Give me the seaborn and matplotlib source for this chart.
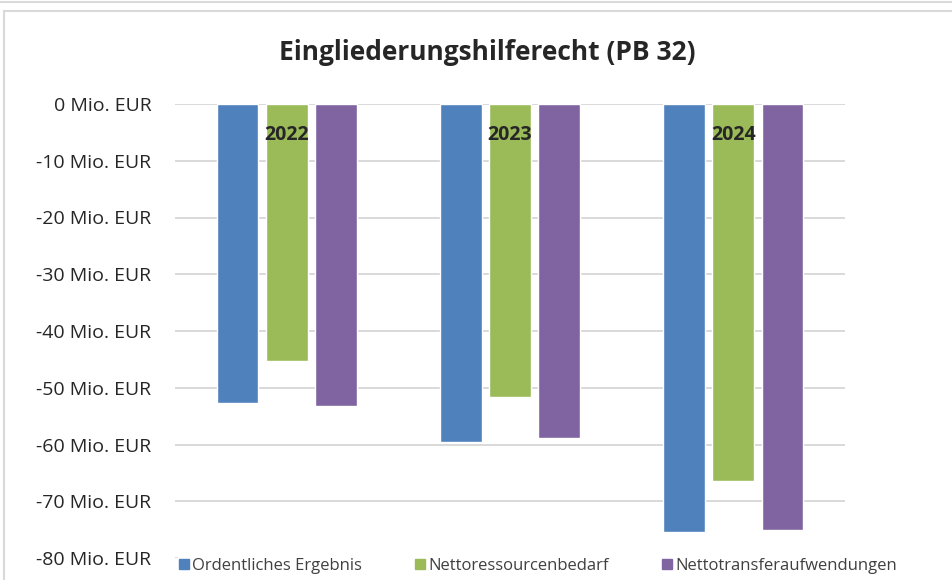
import seaborn as sns
import matplotlib.pyplot as plt
import matplotlib.patches as mpatches
import pandas as pd

# values in Mio. EUR
years = ['2022', '2023', '2024']
series = ['Ordentliches Ergebnis', 'Nettoressourcenbedarf', 'Nettotransferaufwendungen']
ordentliches = [-52.6, -59.5, -75.5]
nettoressourcen = [-45.2, -51.7, -66.4]
nettotransfer = [-53.2, -58.8, -75.1]
colors = ['#4F81BD', '#9BBB59', '#8064A2']
yticks = [0, -10, -20, -30, -40, -50, -60, -70, -80]

df = pd.DataFrame({
    'Jahr': years * 3,
    'Reihe': [series[0]] * 3 + [series[1]] * 3 + [series[2]] * 3,
    'Wert': ordentliches + nettoressourcen + nettotransfer,
})

sns.set_theme(style="white")
plt.rcParams['font.family'] = ['Open Sans', 'DejaVu Sans']

fig = plt.figure(figsize=(9.52, 5.8), dpi=100)
ax = fig.add_axes([175 / 952, 1 - 558 / 580, 670 / 952, 454 / 580])

sns.barplot(data=df, x='Jahr', y='Wert', hue='Reihe', palette=colors, saturation=1,
            width=0.66, gap=0.15, ax=ax, legend=False, zorder=3)

ax.set_ylim(-80, 0)
ax.set_xlim(-0.5, 2.5)
ax.set_yticks(yticks)
ax.set_yticklabels([f'{v} Mio. EUR' for v in yticks], fontsize=14, color='#262626')
ax.tick_params(axis='y', length=0, pad=17)
ax.set_xticks([])
ax.set_xlabel('')
ax.set_ylabel('')
ax.grid(axis='y', color='#d9d9d9', linewidth=1.4, zorder=0)
sns.despine(ax=ax, left=True, bottom=True)

# year labels sit just below the zero line
for i, yr in enumerate(years):
    ax.text(i, -5.5, yr, ha='center', va='center', fontsize=14,
            fontweight='bold', color='#262626', zorder=5)

fig.text(487 / 952, 1 - 52 / 580, 'Eingliederungshilferecht (PB 32)', ha='center',
         va='center', fontsize=19, fontweight='bold', color='#262626')

handles = [mpatches.Patch(color=c, label=s) for c, s in zip(colors, series)]
fig.legend(handles=handles, loc='center', bbox_to_anchor=(538 / 952, 1 - 566 / 580),
           ncol=3, frameon=True, facecolor='white', edgecolor='white', framealpha=1,
           fontsize=12, handlelength=0.6, handleheight=0.6, handletextpad=0.2,
           columnspacing=3.2, borderpad=0.1, labelcolor='#404040')

# chart frame
fig.add_artist(plt.Line2D([0, 1], [1 - 2 / 580, 1 - 2 / 580], color='#d9d9d9', lw=1.5))
fig.add_artist(mpatches.Rectangle((4 / 952, -0.01), 1.1, 1 - 11 / 580 + 0.01,
                                  fill=False, edgecolor='#d9d9d9', lw=1.5))

fig.savefig('out.png', dpi=100)
